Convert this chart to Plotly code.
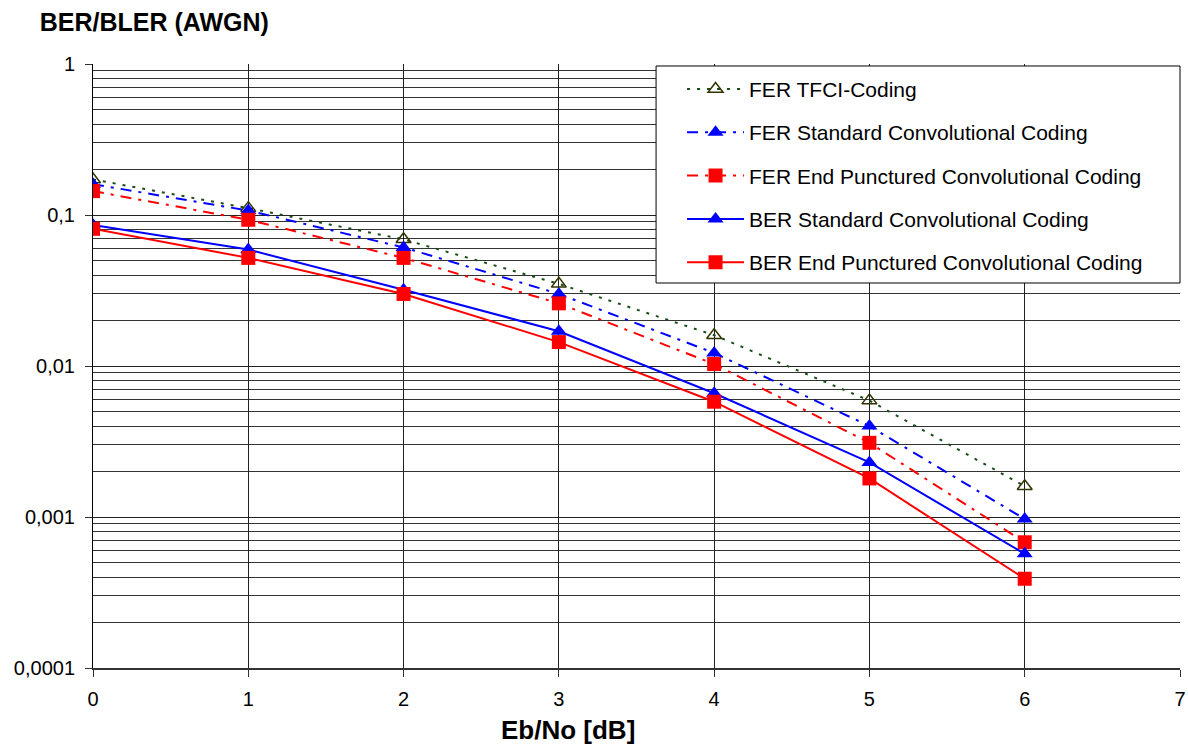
import plotly.graph_objects as go

ebno = [0, 1, 2, 3, 4, 5, 6]
fer_tfci = [0.172, 0.111, 0.069, 0.035, 0.016, 0.0059, 0.0016]
fer_std = [0.160, 0.107, 0.061, 0.030, 0.0122, 0.0040, 0.00097]
fer_endp = [0.144, 0.093, 0.052, 0.026, 0.0103, 0.0031, 0.00068]
ber_std = [0.086, 0.059, 0.032, 0.017, 0.0066, 0.0023, 0.00057]
ber_endp = [0.081, 0.052, 0.030, 0.0144, 0.0058, 0.0018, 0.00039]

y_tickvals = [1, 0.1, 0.01, 0.001, 0.0001]
y_ticktext = ["1", "0,1", "0,01", "0,001", "0,0001"]
x_tickvals = [0, 1, 2, 3, 4, 5, 6, 7]

DOT = "3px,7px"
DASHDOT = "11px,7px,3px,7px"

series = [
    ("FER TFCI-Coding", fer_tfci, "#1a4d1a", DOT, "triangle-up-open", "#333300", 13),
    ("FER Standard Convolutional Coding", fer_std, "#0000ff", DASHDOT, "triangle-up", "#0000ff", 14),
    ("FER End Punctured Convolutional Coding", fer_endp, "#ff0000", DASHDOT, "square", "#ff0000", 14),
    ("BER Standard Convolutional Coding", ber_std, "#0000ff", "solid", "triangle-up", "#0000ff", 14),
    ("BER End Punctured Convolutional Coding", ber_endp, "#ff0000", "solid", "square", "#ff0000", 14),
]

fig = go.Figure()
for i, (name, vals, lc, dash, sym, mc, ms) in enumerate(series):
    fig.add_trace(go.Scatter(
        x=ebno, y=vals, name=name, mode="lines+markers",
        legendgroup=f"g{i}",
        line=dict(color=lc, dash=dash, width=2),
        marker=dict(symbol=sym, color=mc, size=ms,
                    line=dict(color=mc, width=1.5 if sym.endswith("open") else 0)),
    ))

fig.update_layout(
    width=1188, height=745,
    margin=dict(l=93, r=8, t=64, b=77),
    paper_bgcolor="white", plot_bgcolor="white",
    font=dict(family="Arial, Liberation Sans", size=20, color="black"),
    title=dict(text="<b>BER/BLER (AWGN)</b>", x=0.0335, xanchor="left", y=0.9705, yanchor="middle",
               font=dict(size=25)),
    legend=dict(x=0.5419, y=0.992, xanchor="left", yanchor="top",
                bgcolor="rgba(0,0,0,0)", borderwidth=0,
                font=dict(size=21), traceorder="grouped", tracegroupgap=13,
                itemwidth=57),
    showlegend=True,
    shapes=[dict(type="rect", xref="paper", yref="paper", x0=0.518, x1=1.0, y0=0.6374, y1=0.9967,
                 fillcolor="white", line=dict(color="black", width=1), layer="above")],
    annotations=[dict(text="<b>Eb/No [dB]</b>", xref="paper", yref="paper",
                      x=0.437, y=0, yshift=-62, xanchor="center", yanchor="middle",
                      showarrow=False, font=dict(size=26))],
)

fig.update_xaxes(
    range=[0, 7], tickvals=x_tickvals, ticks="outside", ticklen=7, tickcolor="#333",
    ticklabelstandoff=5,
    showline=True, linecolor="#333", linewidth=2, automargin=False,
    showgrid=True, gridcolor="#222", gridwidth=1, zeroline=False,
)
fig.update_yaxes(
    type="log", range=[-4, 0], tickvals=y_tickvals, ticktext=y_ticktext,
    ticks="outside", ticklen=7, tickcolor="#333", automargin=False,
    ticklabelstandoff=6,
    showline=True, linecolor="black", linewidth=1,
    showgrid=True, gridcolor="#222", gridwidth=1,
    minor=dict(dtick="D1", showgrid=True, gridcolor="#333", gridwidth=1, ticks=""),
)

fig.write_html("out.html", config={"displayModeBar": False},
               post_script="document.body.style.margin='0';document.body.style.overflow='hidden';")
